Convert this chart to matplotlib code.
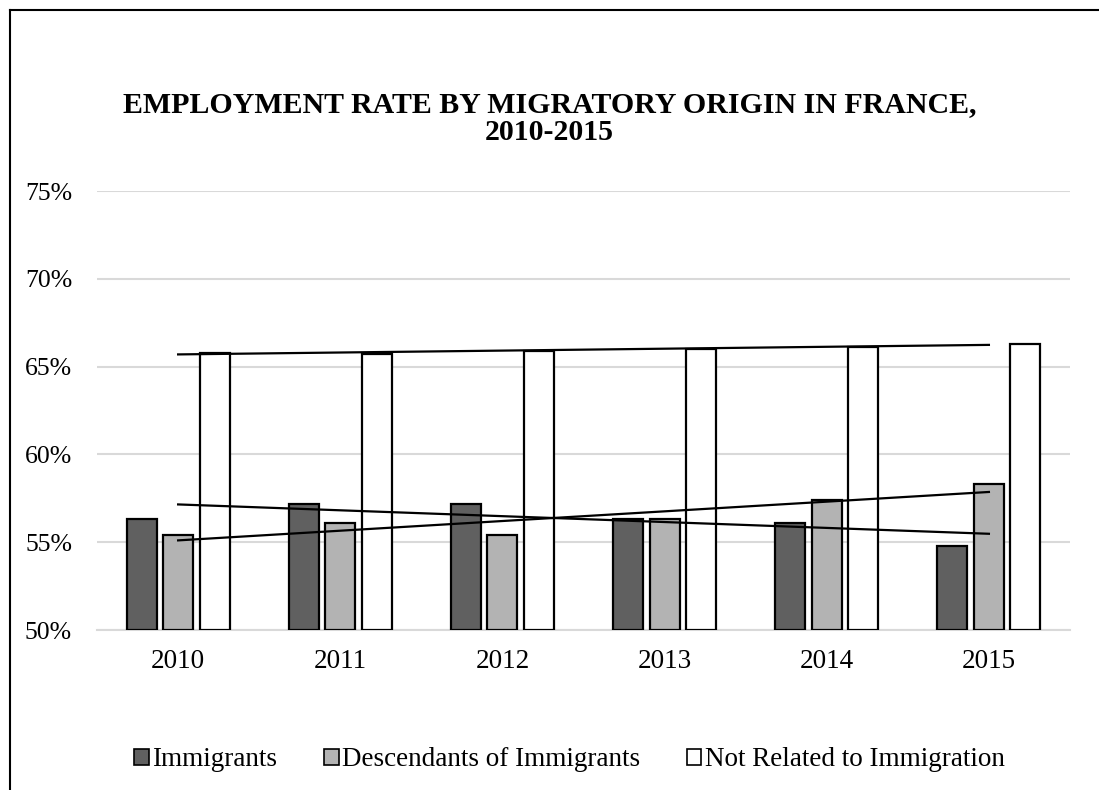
import numpy as np
import matplotlib
matplotlib.use("Agg")
import matplotlib.pyplot as plt
from matplotlib.patches import Patch
from matplotlib.lines import Line2D

# Data (employment rate, %)
years = ["2010", "2011", "2012", "2013", "2014", "2015"]
immigrants = [56.3, 57.2, 57.2, 56.3, 56.1, 54.8]
descendants = [55.4, 56.1, 55.4, 56.3, 57.4, 58.3]
not_related = [65.8, 65.7, 65.9, 66.0, 66.1, 66.3]
series_names = ["Immigrants", "Descendants of Immigrants", "Not Related to Immigration"]
yticks = [50, 55, 60, 65, 70, 75]

plt.rcParams['font.family'] = ['Liberation Serif', 'DejaVu Serif']

fig = plt.figure(figsize=(10.99, 7.90), dpi=100)
ax = fig.add_axes([0.0883, 0.2025, 0.8853, 0.5557])

x = np.arange(len(years))
w = 0.185
off = 0.225
colors = ['#606060', '#b3b3b3', '#ffffff']
all_series = [immigrants, descendants, not_related]

for i, (vals, c) in enumerate(zip(all_series, colors)):
    ax.bar(x + (i - 1) * off, np.array(vals) - 50, bottom=50, width=w,
           color=c, edgecolor='black', linewidth=1.6, zorder=3)

# linear trendlines (excel-like)
for vals in all_series:
    k, b = np.polyfit(x, vals, 1)
    ax.plot([x[0], x[-1]], [k * x[0] + b, k * x[-1] + b], color='black', lw=1.6, zorder=4)

ax.set_xlim(-0.5, len(years) - 0.5)
ax.set_ylim(50, 75)
ax.set_yticks(yticks)
ax.set_yticklabels(["%d%%" % t for t in yticks])
ax.set_xticks(x)
ax.set_xticklabels(years)
ax.tick_params(axis='both', length=0)
ax.tick_params(axis='y', pad=18, labelsize=18.5)
ax.tick_params(axis='x', pad=14, labelsize=19.5)
ax.grid(axis='y', color='#d9d9d9', lw=1.5, zorder=0)
for s in ['top', 'right', 'left']:
    ax.spines[s].set_visible(False)
ax.spines['bottom'].set_color('#d9d9d9')
ax.spines['bottom'].set_linewidth(1.5)

fig.text(0.5, 0.85, "EMPLOYMENT RATE BY MIGRATORY ORIGIN IN FRANCE,\n2010-2015",
         ha='center', va='center', fontsize=21.5, fontweight='bold', linespacing=1.08)

handles = [Patch(facecolor=c, edgecolor='black', linewidth=1.2) for c in colors]
fig.legend(handles, series_names, loc='center', bbox_to_anchor=(0.518, 0.038), ncol=3,
           frameon=False, fontsize=19.5, handlelength=0.55, handleheight=0.55,
           handletextpad=0.12, columnspacing=1.72)

# outer frame (left and top edges visible)
x0 = 10 / 1099
y0 = 1 - 10 / 790
fig.add_artist(Line2D([x0, x0], [0, y0], transform=fig.transFigure, color='black', lw=1.5))
fig.add_artist(Line2D([x0, 1], [y0, y0], transform=fig.transFigure, color='black', lw=1.5))

fig.savefig("out.png", dpi=100)
